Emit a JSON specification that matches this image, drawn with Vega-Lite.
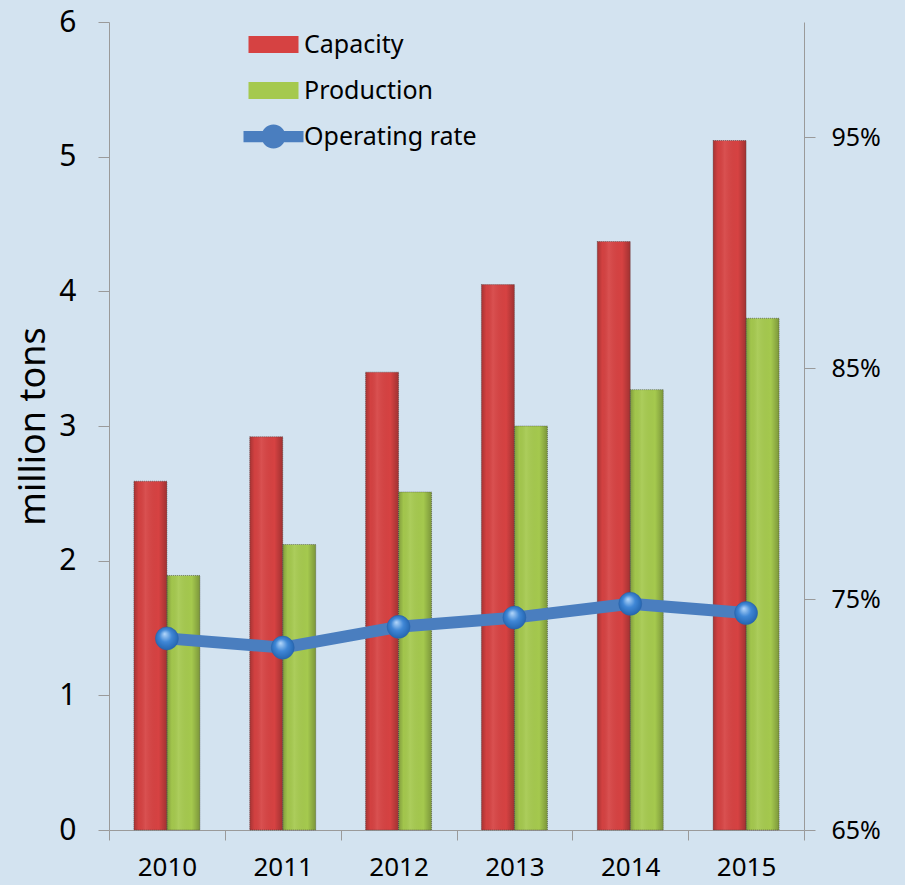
{
  "$schema": "https://vega.github.io/schema/vega-lite/v6.json",
  "width": 695,
  "height": 808,
  "autosize": "none",
  "padding": {"left": 109, "top": 22, "right": 101, "bottom": 55},
  "background": "#d3e3f0",
  "config": {
    "view": {"stroke": null},
    "font": "Noto Sans",
    "axis": {"grid": false, "domainColor": "#9a9a9a", "tickColor": "#9a9a9a", "labelColor": "#000000", "titleColor": "#000000", "titleFontWeight": "normal"}
  },
  "datasets": {
    "bars": [
      {"year": "2010", "series": "Capacity", "value": 2.59},
      {"year": "2010", "series": "Production", "value": 1.89},
      {"year": "2011", "series": "Capacity", "value": 2.92},
      {"year": "2011", "series": "Production", "value": 2.12},
      {"year": "2012", "series": "Capacity", "value": 3.40},
      {"year": "2012", "series": "Production", "value": 2.51},
      {"year": "2013", "series": "Capacity", "value": 4.05},
      {"year": "2013", "series": "Production", "value": 3.00},
      {"year": "2014", "series": "Capacity", "value": 4.37},
      {"year": "2014", "series": "Production", "value": 3.27},
      {"year": "2015", "series": "Capacity", "value": 5.12},
      {"year": "2015", "series": "Production", "value": 3.80}
    ],
    "rate": [
      {"year": "2010", "rate": 0.733},
      {"year": "2011", "rate": 0.729},
      {"year": "2012", "rate": 0.738},
      {"year": "2013", "rate": 0.742},
      {"year": "2014", "rate": 0.748},
      {"year": "2015", "rate": 0.744}
    ]
  },
  "layer": [
    {
      "data": {"name": "bars"},
      "encoding": {
        "x": {"field": "year", "type": "nominal", "scale": {"paddingInner": 0, "paddingOuter": 0},
              "axis": {"title": null, "labelAngle": 0, "labelFontSize": 26, "tickBand": "extent", "tickSize": 10, "labelPadding": 14}},
        "xOffset": {"field": "series", "type": "nominal", "sort": ["Capacity", "Production"], "scale": {"paddingInner": 0, "paddingOuter": 0.755}},
        "y": {"field": "value", "type": "quantitative", "scale": {"domain": [0, 6], "nice": false},
              "axis": {"values": [0, 1, 2, 3, 4, 5, 6], "title": "million tons", "titleFontSize": 36, "labelFontSize": 30, "tickSize": 11, "labelPadding": 22, "titlePadding": 6}}
      },
      "layer": [
        {
          "mark": {"type": "bar"},
          "encoding": {
            "color": {"field": "series", "type": "nominal",
                      "scale": {"domain": ["Capacity", "Production", "Operating rate"], "range": ["#d64242", "#a5c94e", "#4a7ebf"]},
                      "legend": {
                        "title": null, "orient": "none", "legendX": 152, "legendY": 10,
                        "symbolSize": 625, "labelFontSize": 25, "labelOffset": 18, "rowPadding": 20, "labelLimit": 400,
                        "symbolStrokeWidth": 0, "labelColor": "#000000",
                        "encode": {
                          "symbols": {"update": {
                            "shape": {"signal": "datum.value === 'Operating rate' ? 'M-2.4,-0.45H2.4V0.45H-2.4Z M-0.96,0A0.96,0.96 0 1,1 0.96,0A0.96,0.96 0 1,1 -0.96,0Z' : 'M-2,-0.68H2V0.68H-2Z'"},
                            "fill": {"signal": "datum.value === 'Capacity' ? '#d64242' : datum.value === 'Production' ? '#a5c94e' : '#4a7ebf'"},
                            "opacity": {"value": 1},
                            "strokeWidth": {"value": 0}
                          }}
                        }
                      }}
          }
        },
        {
          "mark": {"type": "bar",
                   "fill": {"gradient": "linear", "x1": 0, "y1": 0, "x2": 1, "y2": 0,
                            "stops": [{"offset": 0, "color": "rgba(0,0,0,0.22)"}, {"offset": 0.15, "color": "rgba(0,0,0,0.02)"}, {"offset": 0.35, "color": "rgba(255,255,255,0.08)"}, {"offset": 0.75, "color": "rgba(0,0,0,0.0)"}, {"offset": 1, "color": "rgba(0,0,0,0.25)"}]},
                   "stroke": "#444444", "strokeDash": [1, 1], "strokeWidth": 1, "strokeOpacity": 0.6}
        }
      ]
    },
    {
      "data": {"name": "rate"},
      "encoding": {
        "x": {"field": "year", "type": "nominal", "scale": {"paddingInner": 0, "paddingOuter": 0}},
        "y": {"field": "rate", "type": "quantitative", "scale": {"domain": [0.65, 1.0], "nice": false},
              "axis": {"orient": "right", "values": [0.65, 0.75, 0.85, 0.95], "format": ".0%", "title": null, "labelFontSize": 25, "tickSize": 11, "labelPadding": 16}}
      },
      "layer": [
        {
          "mark": {"type": "line", "strokeWidth": 12, "strokeCap": "round", "strokeJoin": "round"},
          "encoding": {"color": {"datum": "Operating rate", "type": "nominal"}}
        },
        {
          "mark": {"type": "point", "filled": true, "size": 530, "opacity": 1,
                   "fill": {"gradient": "radial", "x1": 0.4, "y1": 0.3, "r1": 0, "x2": 0.5, "y2": 0.5, "r2": 0.6,
                            "stops": [{"offset": 0, "color": "#b5d8fb"}, {"offset": 0.45, "color": "#3f87d6"}, {"offset": 1, "color": "#1d5ca6"}]},
                   "stroke": "#2a63a8", "strokeWidth": 0.5}
        }
      ]
    }
  ],
  "resolve": {"scale": {"y": "independent"}}
}
